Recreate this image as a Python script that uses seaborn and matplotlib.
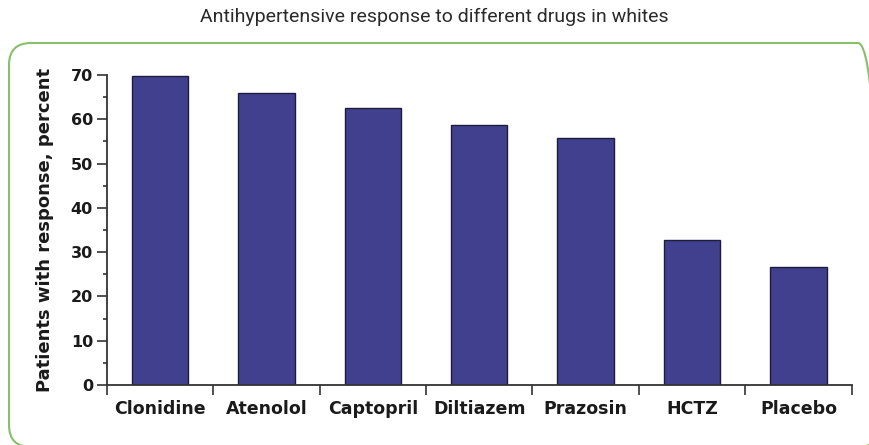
import matplotlib
matplotlib.use("Agg")
import matplotlib.pyplot as plt
from matplotlib.patches import FancyBboxPatch
from matplotlib.transforms import IdentityTransform
from matplotlib.ticker import MultipleLocator
import seaborn as sns

# values
drugs = ['Clonidine', 'Atenolol', 'Captopril', 'Diltiazem', 'Prazosin', 'HCTZ', 'Placebo']
response = [69.8, 66.0, 62.5, 58.8, 55.7, 32.7, 26.7]
y_ticks = [0, 10, 20, 30, 40, 50, 60, 70]

sns.set_style("ticks")
plt.rcParams['font.family'] = ['DejaVu Sans']

fig = plt.figure(figsize=(8.69, 4.45), dpi=100)
ax = fig.add_axes([0.123, 0.1348, 0.857, 0.6967])

sns.barplot(x=drugs, y=response, color='#40408e', saturation=1,
            width=0.53, edgecolor='#1c1c3c', linewidth=1.0, ax=ax)

ax.set_xlim(-0.5, len(drugs) - 0.5)
ax.set_ylim(0, 70)
ax.set_yticks(y_ticks)
ax.yaxis.set_minor_locator(MultipleLocator(5))

# ticks between the bars, labels under the bars
ax.set_xticks([i - 0.5 for i in range(len(drugs) + 1)])
ax.set_xticklabels([])
ax.set_xticks(range(len(drugs)), minor=True)
ax.set_xticklabels(drugs, minor=True, fontsize=12.5, fontweight='bold', color='#1a1a1a')
ax.tick_params(axis='x', which='major', direction='out', length=7, width=1.2, color='#333333')
ax.tick_params(axis='x', which='minor', length=0, pad=11)
ax.tick_params(axis='y', which='major', direction='out', length=7, width=1.2, color='#333333',
               labelsize=11.5, pad=3)
ax.tick_params(axis='y', which='minor', direction='out', length=3, width=1.2, color='#333333')
for t in ax.get_yticklabels():
    t.set_fontweight('bold')
    t.set_color('#1a1a1a')

for s in ['top', 'right']:
    ax.spines[s].set_visible(False)
for s in ['left', 'bottom']:
    ax.spines[s].set_color('#333333')
    ax.spines[s].set_linewidth(1.3)

ax.set_xlabel('')
ax.set_ylabel('Patients with response, percent', fontsize=13, fontweight='bold', color='#1a1a1a')
ax.yaxis.set_label_coords(-0.071, 0.5)

fig.text(0.5, 0.962, 'Antihypertensive response to different drugs in whites',
         ha='center', va='center', fontsize=14, family=['Roboto', 'DejaVu Sans'],
         color='#2a2a2a')

# green rounded frame around the chart
frame = FancyBboxPatch((9, -2), 871, 404, boxstyle="round,pad=0,rounding_size=22",
                       transform=IdentityTransform(), fill=False,
                       edgecolor='#86c06a', linewidth=1.5)
fig.patches.append(frame)

fig.savefig('out.png', dpi=100)
